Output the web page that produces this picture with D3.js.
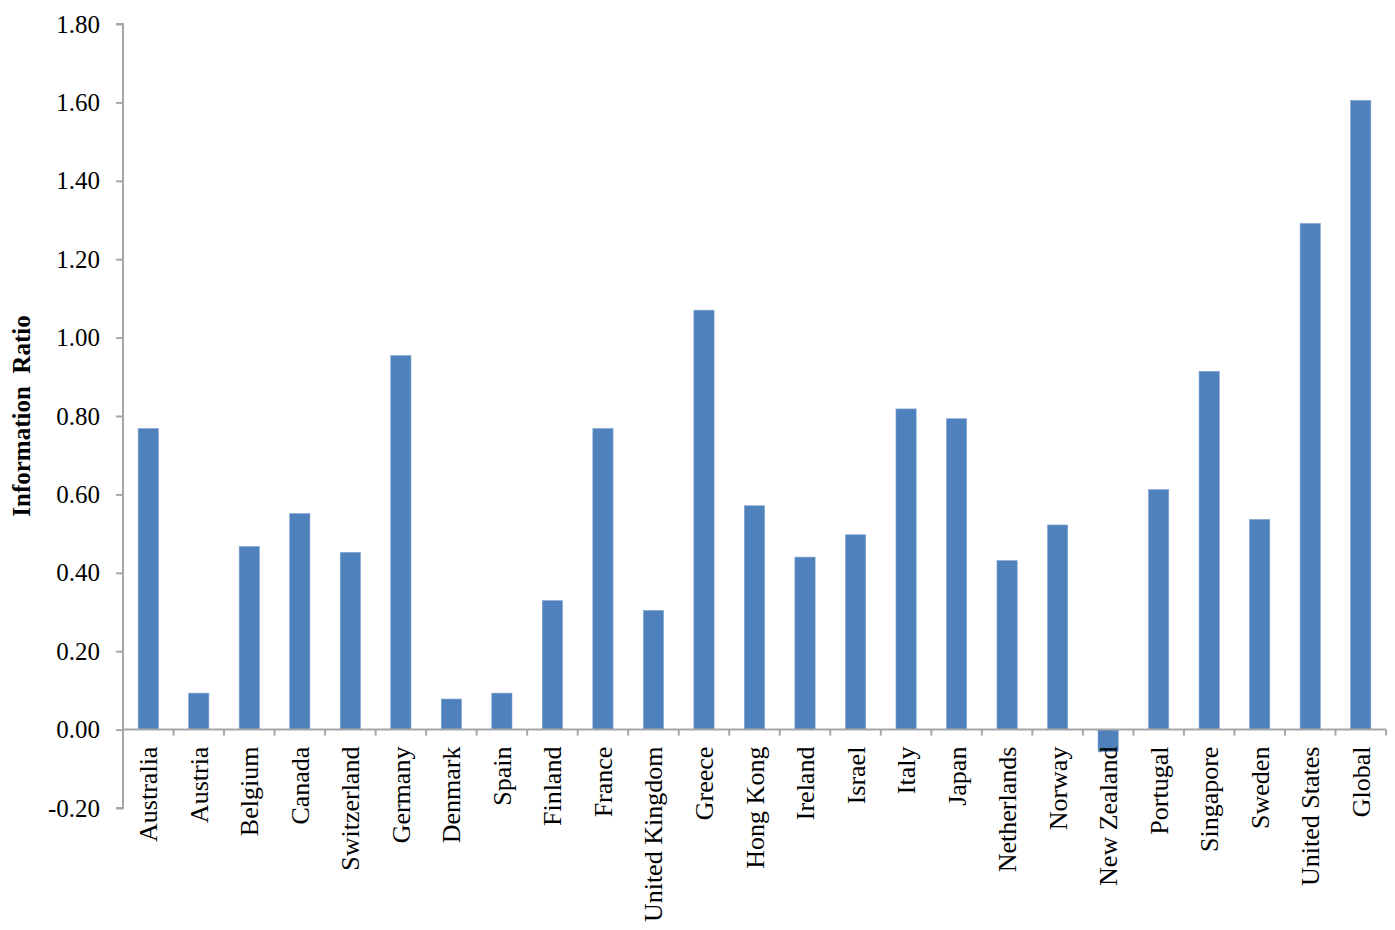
<!DOCTYPE html>
<html><head><meta charset="utf-8">
<script src="https://cdn.jsdelivr.net/npm/d3@7"></script>
<style>body{margin:0;background:#fff}svg{display:block}</style>
</head><body><svg id="c" width="1395" height="930"></svg>
<script>
const categories = ["Australia","Austria","Belgium","Canada","Switzerland","Germany","Denmark","Spain","Finland","France","United Kingdom","Greece","Hong Kong","Ireland","Israel","Italy","Japan","Netherlands","Norway","New Zealand","Portugal","Singapore","Sweden","United States","Global"];
const values = [0.768,0.093,0.467,0.551,0.452,0.954,0.078,0.093,0.329,0.768,0.304,1.070,0.571,0.440,0.497,0.818,0.793,0.431,0.522,-0.056,0.612,0.914,0.536,1.291,1.605];
const yTicks = [-0.2,0,0.2,0.4,0.6,0.8,1.0,1.2,1.4,1.6,1.8];
const yTitle = "Information\u00a0\u00a0Ratio";

const svg = d3.select("#c");
const font = "'Liberation Serif','Times New Roman',serif";
const axisColor = "#a6a6a6";
const x = d3.scaleBand().domain(categories).range([123, 1386]).paddingInner(0.6).paddingOuter(0.3);
const xb = d3.scaleBand().domain(categories).range([123, 1386]);
const y = d3.scaleLinear().domain([-0.2, 1.8]).range([808, 24]);

// bars
svg.append("g").selectAll("rect").data(categories).join("rect")
  .attr("x", d => x(d))
  .attr("width", x.bandwidth())
  .attr("y", (d,i) => y(Math.max(0, values[i])))
  .attr("height", (d,i) => Math.abs(y(values[i]) - y(0)))
  .attr("fill", "#4f81bd")
  .attr("stroke", "#7ea1cf").attr("stroke-width", 0.6);

// y axis
const ya = svg.append("g").attr("transform", "translate(123,0)")
  .call(d3.axisLeft(y).tickValues(yTicks).tickFormat(d => d.toFixed(2)).tickSize(7).tickPadding(16));
ya.select(".domain").attr("stroke", axisColor).attr("stroke-width", 2).attr("d", `M-7,${y(1.8)}H0V${y(-0.2)}H-7`);
ya.selectAll(".tick line").attr("stroke", axisColor).attr("stroke-width", 2);
ya.selectAll(".tick text").attr("font-family", font).attr("font-size", 25).attr("fill", "#000");

// x axis at zero
const xa = svg.append("g").attr("transform", `translate(0,${y(0)})`);
xa.append("line").attr("x1", 123).attr("x2", 1386).attr("stroke", axisColor).attr("stroke-width", 2);
xa.selectAll("line.t").data(categories.slice(1).concat(["__end"])).join("line").attr("class","t")
  .attr("x1", d => d === "__end" ? 1386 : xb(d)).attr("x2", d => d === "__end" ? 1386 : xb(d))
  .attr("y1", 0).attr("y2", 6).attr("stroke", axisColor).attr("stroke-width", 2);
xa.selectAll("text").data(categories).join("text")
  .attr("transform", d => `translate(${xb(d) + xb.bandwidth()/2 + 9},17) rotate(-90)`)
  .attr("text-anchor", "end")
  .attr("font-family", font).attr("font-size", 26).attr("fill", "#000")
  .text(d => d);

// y title
svg.append("text").attr("transform", "translate(30,416) rotate(-90)")
  .attr("text-anchor", "middle").attr("font-family", font).attr("font-weight", "bold")
  .attr("font-size", 25).attr("fill", "#000").text(yTitle);
</script></body></html>
